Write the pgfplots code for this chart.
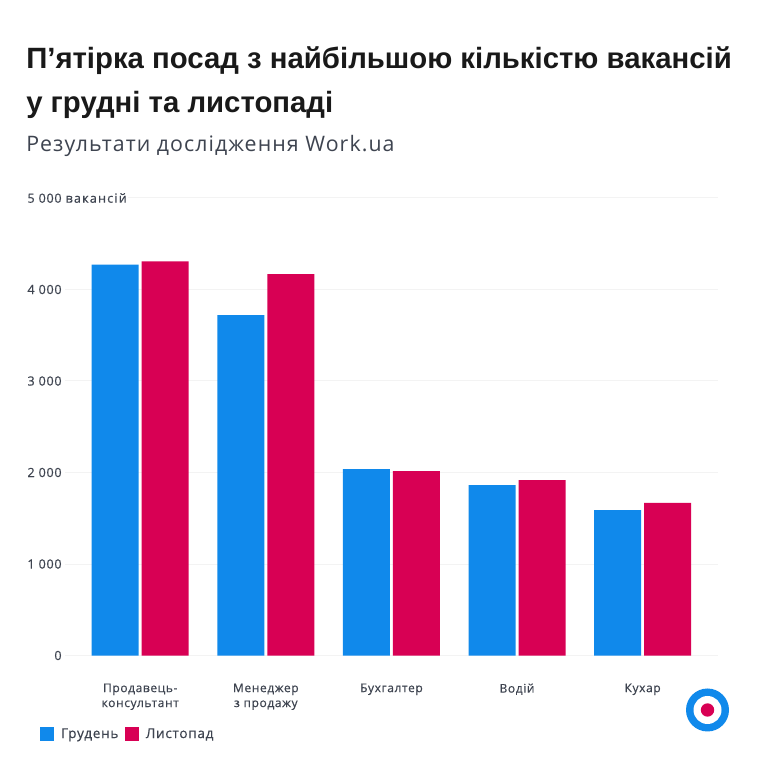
\documentclass[border=0pt]{standalone}
\usepackage{fontspec}
\setmainfont{Liberation Sans}
\newfontfamily\subfont[LetterSpace=5]{Open Sans}
\newfontfamily\lblfont[FakeBold=0.4,LetterSpace=5]{Open Sans}
\newfontfamily\wordfont[FakeBold=0.4,LetterSpace=9]{Open Sans}
\usepackage{pgfplots}
\pgfplotsset{compat=1.18}
\usepackage{pgfplotstable}

\definecolor{dec}{HTML}{1089EB}
\definecolor{nov}{HTML}{D80054}
\definecolor{gridc}{HTML}{F3F3F3}
\definecolor{lbl}{HTML}{3E4450}
\setlength{\fboxsep}{1pt}

\pgfplotstableread{
pos dec nov
0 4273 4306
1 3721 4169
2 2038 2016
3 1863 1918
4 1590 1667
}\vacancies

\begin{document}
\begin{tikzpicture}[x=0.75pt,y=0.75pt]
  % page is 764x764 px, 1 px = 0.75pt, y counted from the bottom
  \fill[white,use as bounding box] (0,0) rectangle (764,764);
  \node[anchor=base west,inner sep=0pt,font=\fontsize{22pt}{26pt}\selectfont\bfseries,text=black!90] at (26,695) {П’ятірка посад з найбільшою кількістю вакансій};
  \node[anchor=base west,inner sep=0pt,font=\fontsize{22pt}{26pt}\selectfont\bfseries,text=black!90] at (26,651) {у грудні та листопаді};
  \node[anchor=base west,inner sep=0pt,font=\fontsize{16pt}{18pt}\subfont,text=lbl] at (26,612) {Результати дослідження Work.ua};

  \begin{axis}[
    at={(48.75pt,81.375pt)},anchor=south west,
    scale only axis,
    width=489.75pt,height=343.125pt,
    xmin=-0.599,xmax=4.6,
    ymin=0,ymax=5000,
    clip=false,
    axis line style={draw=none},
    major tick style={draw=none},
    ymajorgrids,
    grid style={gridc,line width=0.75pt},
    ytick={0,1000,2000,3000,4000,5000},
    yticklabels={0,1 000,2 000,3 000,4 000,{5 000\rlap{\hspace{2pt}\colorbox{white}{\wordfont вакансій}}}},
    xtick=data,
    xticklabels={{Продавець-\\консультант},{Менеджер\\з продажу},Бухгалтер,Водій,Кухар},
    tick label style={font=\fontsize{9.5pt}{11pt}\lblfont,text=lbl},
    x tick label style={align=center,anchor=north,yshift=-17.5pt,font=\fontsize{9pt}{11.2pt}\lblfont},
    y tick label style={anchor=east,xshift=1pt},
    bar width=35.25pt,
    legend style={at={(-0.038,-0.172)},anchor=west,draw=none,fill=none,
      legend columns=2,font=\fontsize{10.2pt}{11pt}\lblfont,text=lbl,
      /tikz/every odd column/.style={column sep=3pt},
      /tikz/every even column/.style={column sep=3pt},inner sep=0pt},
    legend image code/.code={\fill[#1] (0pt,-5pt) rectangle (10.5pt,5.5pt);},
  ]
    \addplot[ybar,bar shift=-18.75pt,fill=dec,draw=none] table[x=pos,y=dec] {\vacancies};
    \addplot[ybar,bar shift=18.75pt,fill=nov,draw=none] table[x=pos,y=nov] {\vacancies};
    \legend{Грудень,Листопад}
  \end{axis}

  % logo
  \fill[dec] (707.5,54) circle[radius=21.5];
  \fill[white] (707.5,54) circle[radius=14];
  \fill[nov] (707.5,54) circle[radius=6.7];
\end{tikzpicture}
\end{document}
